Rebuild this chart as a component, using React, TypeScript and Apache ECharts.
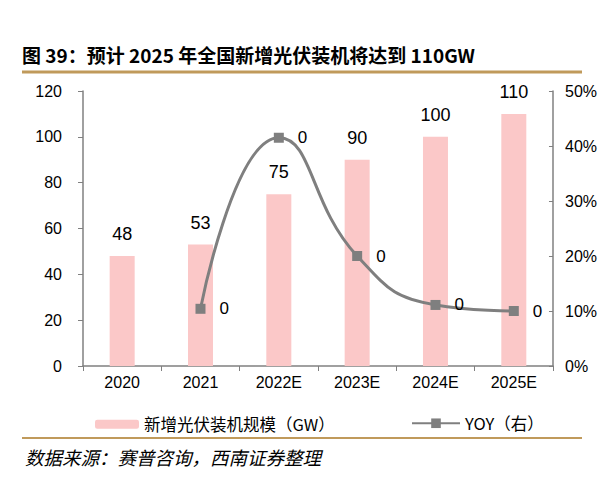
import React, { useEffect, useRef } from "react";
import * as echarts from "echarts";

const categories = ["2020", "2021", "2022E", "2023E", "2024E", "2025E"];
const capacity = [48, 53, 75, 90, 100, 110];
const yoy = [null, 10.4, 41.5, 20.0, 11.1, 10.0];
const leftTicks = [0, 20, 40, 60, 80, 100, 120];
const rightTicks = [0, 10, 20, 30, 40, 50];

const TITLE = "图 39：预计 2025 年全国新增光伏装机将达到 110GW";
const SOURCE = "数据来源：赛普咨询，西南证券整理";
const BAR_NAME = "新增光伏装机规模（GW）";
const LINE_NAME = "YOY（右）";

export default function App() {
  const ref = useRef<HTMLDivElement>(null);
  useEffect(() => {
    if (!ref.current) return;
    const chart = echarts.init(ref.current, null, { renderer: "svg" });
    const axisFont = { fontFamily: "Liberation Sans, Arial, sans-serif", fontSize: 16, color: "#000" };
    chart.setOption({
      animation: false,
      backgroundColor: "#fff",
      grid: { left: 83, right: 47, top: 91, bottom: 120, containLabel: false },
      legend: [
        {
          data: [BAR_NAME],
          left: 90,
          top: 411,
          itemWidth: 44,
          itemHeight: 9,
          itemGap: 8,
          textStyle: { fontFamily: "Noto Sans CJK SC", fontSize: 16.5, color: "#000" },
        },
        {
          data: [LINE_NAME],
          left: 406,
          top: 410,
          itemWidth: 48,
          itemHeight: 12,
          itemGap: 6,
          textStyle: { fontFamily: "Noto Sans CJK SC", fontSize: 16.5, color: "#000" },
        },
      ],
      xAxis: {
        type: "category",
        data: categories,
        axisLine: { lineStyle: { color: "#808080", width: 1.5 } },
        axisTick: { show: true, alignWithLabel: false, lineStyle: { color: "#808080" }, length: 5 },
        axisLabel: { ...axisFont, margin: 8 },
      },
      yAxis: [
        {
          type: "value",
          min: 0,
          max: 120,
          interval: 20,
          axisLine: { show: true, lineStyle: { color: "#808080", width: 1.5 } },
          axisTick: { show: true, lineStyle: { color: "#808080" }, length: 5 },
          splitLine: { show: false },
          axisLabel: { ...axisFont, margin: 21, formatter: (v: number) => (leftTicks.includes(v) ? String(v) : "") },
        },
        {
          type: "value",
          min: 0,
          max: 50,
          interval: 10,
          position: "right",
          axisLine: { show: true, lineStyle: { color: "#808080", width: 1.5 } },
          axisTick: { show: true, inside: true, lineStyle: { color: "#808080" }, length: 4 },
          splitLine: { show: false },
          axisLabel: { ...axisFont, margin: 12, formatter: (v: number) => (rightTicks.includes(v) ? v + "%" : "") },
        },
      ],
      series: [
        {
          name: BAR_NAME,
          type: "bar",
          data: capacity,
          barWidth: 25,
          itemStyle: { color: "#fbc8c8" },
          label: {
            show: true,
            position: "top",
            distance: 13,
            fontFamily: "Liberation Sans, Arial, sans-serif",
            fontSize: 18,
            color: "#000",
          },
        },
        {
          name: LINE_NAME,
          type: "line",
          yAxisIndex: 1,
          data: yoy,
          smooth: true,
          symbol: "rect",
          symbolSize: 10,
          lineStyle: { color: "#7f7f7f", width: 3 },
          itemStyle: { color: "#7f7f7f" },
          label: {
            show: true,
            position: "right",
            distance: 14,
            formatter: () => "0",
            fontFamily: "Liberation Sans, Arial, sans-serif",
            fontSize: 17,
            color: "#000",
          },
        },
      ],
      graphic: [
        {
          type: "text",
          left: 22,
          top: 45,
          style: {
            text: TITLE,
            fontFamily: "Noto Sans CJK SC",
            fontWeight: "bold",
            fontSize: 19,
            fill: "#000",
          },
        },
        {
          type: "line",
          shape: { x1: 22, y1: 72, x2: 582, y2: 72 },
          style: { stroke: "#c09a5b", lineWidth: 3 },
        },
        {
          type: "line",
          shape: { x1: 22, y1: 438, x2: 582, y2: 438 },
          style: { stroke: "#c09a5b", lineWidth: 2 },
        },
        {
          type: "text",
          left: 25,
          top: 448,
          style: {
            text: SOURCE,
            fontFamily: "Noto Sans CJK SC",
            fontStyle: "italic",
            fontSize: 18.5,
            fill: "#000",
          },
        },
      ],
    });
    return () => chart.dispose();
  }, []);
  return <div ref={ref} style={{ width: 600, height: 486, position: "absolute", left: 0, top: 0 }} />;
}
